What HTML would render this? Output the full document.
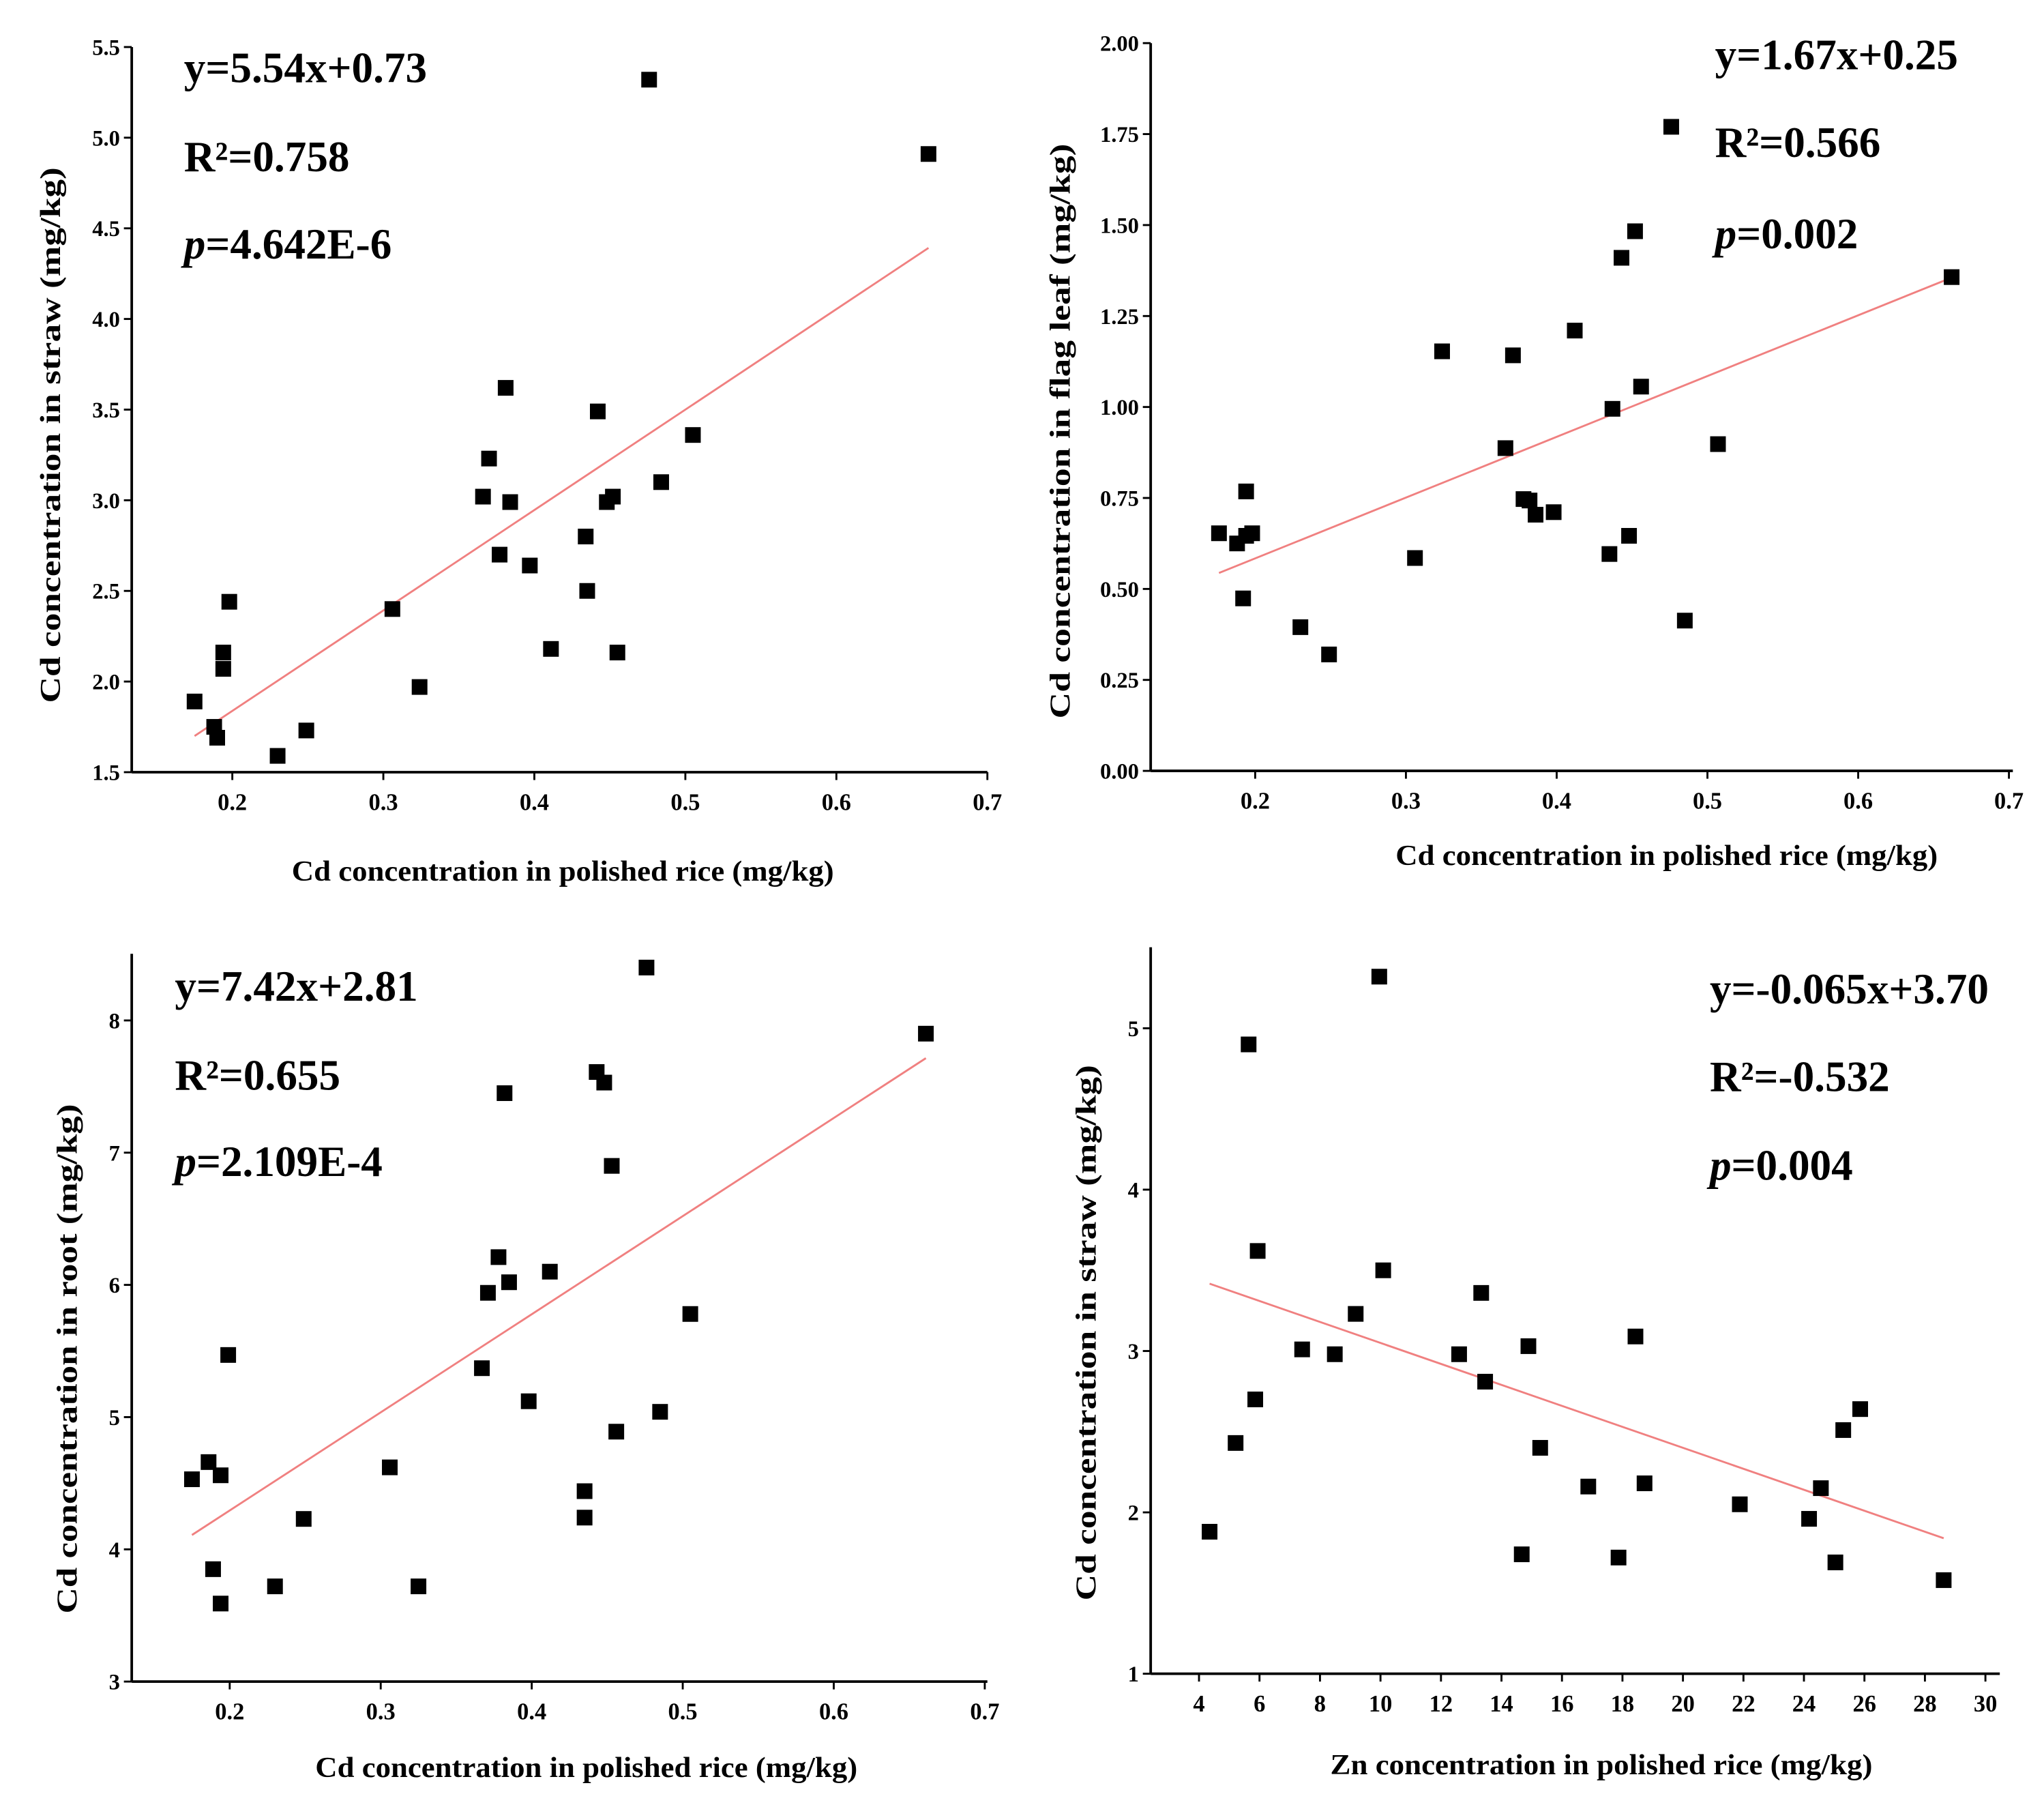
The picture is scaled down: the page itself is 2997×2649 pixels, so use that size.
<!DOCTYPE html>
<html><head><meta charset="utf-8"><style>html,body{margin:0;padding:0;background:#fff}svg{display:block}</style></head>
<body>
<svg id="chart" width="2997" height="2649" viewBox="0 0 1563 1383" xmlns="http://www.w3.org/2000/svg" font-family="Liberation Serif, serif">
<rect width="1563" height="1383" fill="#fff"/>
</svg>
<script>
// Panel A: Cd straw vs Cd polished rice
const aX = [0.175,0.188,0.190,0.194,0.194,0.198,0.230,0.249,0.306,0.324,0.366,0.370,0.377,0.381,0.384,0.397,0.411,0.434,0.435,0.442,0.448,0.452,0.455,0.476,0.484,0.505,0.661];
const aY = [1.89,1.75,1.69,2.16,2.07,2.44,1.59,1.73,2.40,1.97,3.02,3.23,2.70,3.62,2.99,2.64,2.18,2.80,2.50,3.49,2.99,3.02,2.16,5.32,3.10,3.36,4.91];
// Panel B: flag leaf
const bX = [0.176,0.188,0.192,0.194,0.194,0.198,0.230,0.249,0.306,0.324,0.366,0.371,0.378,0.382,0.386,0.398,0.412,0.435,0.437,0.443,0.448,0.452,0.456,0.476,0.485,0.507,0.662];
const bY = [0.653,0.625,0.474,0.768,0.646,0.653,0.395,0.320,0.585,1.153,0.887,1.142,0.747,0.743,0.704,0.711,1.210,0.596,0.995,1.410,0.646,1.483,1.056,1.770,0.413,0.898,1.357];
// Panel C: root
const cX = [0.175,0.186,0.189,0.194,0.194,0.199,0.230,0.249,0.306,0.325,0.367,0.371,0.378,0.382,0.385,0.398,0.412,0.435,0.435,0.443,0.448,0.453,0.456,0.476,0.485,0.505,0.661];
const cY = [4.53,4.66,3.85,4.56,3.59,5.47,3.72,4.23,4.62,3.72,5.37,5.94,6.21,7.45,6.02,5.12,6.10,4.24,4.44,7.61,7.53,6.90,4.89,8.40,5.04,5.78,7.90];
// Panel D: Zn vs Cd straw
const dX = [4.35,5.21,5.64,5.86,5.94,7.41,8.49,9.18,9.96,10.09,12.6,13.33,13.46,14.67,14.89,15.28,16.87,17.87,18.43,18.73,21.88,24.17,24.56,25.04,25.3,25.86,28.62];
const dY = [1.88,2.43,4.90,2.70,3.62,3.01,2.98,3.23,5.32,3.50,2.98,3.36,2.81,1.74,3.03,2.40,2.16,1.72,3.09,2.18,2.05,1.96,2.15,1.69,2.51,2.64,1.58];
const aTicksX = ["0.2","0.3","0.4","0.5","0.6","0.7"];
const aTicksY = ["1.5","2.0","2.5","3.0","3.5","4.0","4.5","5.0","5.5"];
const bTicksY = ["0.00","0.25","0.50","0.75","1.00","1.25","1.50","1.75","2.00"];
const cTicksY = ["3","4","5","6","7","8"];
const dTicksX = ["4","6","8","10","12","14","16","18","20","22","24","26","28","30"];
const dTicksY = ["1","2","3","4","5"];
const fitA = [5.54,0.73], fitB = [1.67,0.25], fitC = [7.42,2.81], fitD = [-0.065,3.70];

const svg = document.getElementById('chart');
const NS = 'http://www.w3.org/2000/svg';
function mk(tag, attrs, parent){const e=document.createElementNS(NS,tag);for(const k in attrs)e.setAttribute(k,attrs[k]);(parent||svg).appendChild(e);return e;}

function panel(p){
  const g = mk('g',{});
  
  
  const sx = v => p.px0 + (v - p.vx0) * (p.px1 - p.px0) / (p.vx1 - p.vx0);
  const sy = v => p.py0 + (v - p.vy0) * (p.py1 - p.py0) / (p.vy1 - p.vy0);
  const axY = mk('line',{x1:p.left,y1:p.axisTop,x2:p.left,y2:p.bottom,stroke:'#000','stroke-width':2},g);
  
  
  const axX = mk('line',{x1:p.left,y1:p.bottom,x2:p.right,y2:p.bottom,stroke:'#000','stroke-width':2},g);
  
  
  p.ticksX.forEach(t=>{
    const x=sx(parseFloat(t));
    mk('line',{x1:x,y1:p.bottom,x2:x,y2:p.bottom+6,stroke:'#000','stroke-width':1.5},g);
    const tx=mk('text',{x:x,y:p.bottom+29,'text-anchor':'middle','font-size':18,'font-weight':'bold'},g);
    tx.textContent=t;
    
    
  });
  p.ticksY.forEach(t=>{
    const y=sy(parseFloat(t));
    mk('line',{x1:p.left-6,y1:y,x2:p.left,y2:y,stroke:'#000','stroke-width':1.5},g);
    const tx=mk('text',{x:p.left-9,y:y+6,'text-anchor':'end','font-size':17,'font-weight':'bold'},g);
    tx.textContent=t;
    
    
  });
  const x0=Math.min(...p.xs), x1=Math.max(...p.xs);
  const fl=mk('line',{x1:sx(x0),y1:sy(p.fit[0]*x0+p.fit[1]),x2:sx(x1),y2:sy(p.fit[0]*x1+p.fit[1]),stroke:'#f08080','stroke-width':1.5},g);
  
  
  p.xs.forEach((v,i)=>{
    const r=mk('rect',{x:sx(v)-6,y:sy(p.ys[i])-6,width:12,height:12,fill:'#000'},g);
    
    
  });
  const xt=mk('text',{x:p.xtx,y:p.xty,'text-anchor':'middle','font-size':22,'font-weight':'bold',textLength:p.xlen,lengthAdjust:'spacingAndGlyphs'},g);
  xt.textContent=p.xtitle;
  
  
  const yt=mk('text',{x:0,y:0,'text-anchor':'middle','font-size':22,'font-weight':'bold',textLength:p.ylen,lengthAdjust:'spacingAndGlyphs',transform:`translate(${p.ytx},${p.yty}) rotate(-90)`},g);
  yt.textContent=p.ytitle;
  
  
  const lines=[p.eq,'R²='+p.r2,null];
  p.annY.forEach((yy,i)=>{
    const t=mk('text',{x:p.annX,y:yy,'font-size':33,'font-weight':'bold'},g);
    if(i<2){t.textContent=lines[i];}
    else{const it=mk('tspan',{'font-style':'italic'},t);it.textContent='p';const rest=mk('tspan',{},t);rest.textContent='='+p.pv;}
    
    
  });
}

panel({name:'panel-straw-vs-rice',left:100,right:755,axisTop:36,bottom:591,px0:177,px1:755,vx0:0.2,vx1:0.7,py0:591,py1:36,vy0:1.5,vy1:5.5,
  ticksX:aTicksX,ticksY:aTicksY,xs:aX,ys:aY,fit:fitA,xtitle:'Cd concentration in polished rice (mg/kg)',xtx:430,xty:674,xlen:415,
  ytitle:'Cd concentration in straw (mg/kg)',ytx:45,yty:333,ylen:410,eq:'y=5.54x+0.73',r2:'0.758',pv:'4.642E-6',annX:140,annY:[63,131,198]});
panel({name:'panel-flagleaf-vs-rice',left:880,right:1540,axisTop:33,bottom:590,px0:960,px1:1537,vx0:0.2,vx1:0.7,py0:590,py1:33,vy0:0,vy1:2,
  ticksX:aTicksX,ticksY:bTicksY,xs:bX,ys:bY,fit:fitB,xtitle:'Cd concentration in polished rice (mg/kg)',xtx:1275,xty:662,xlen:415,
  ytitle:'Cd concentration in flag leaf (mg/kg)',ytx:818,yty:330,ylen:440,eq:'y=1.67x+0.25',r2:'0.566',pv:'0.002',annX:1312,annY:[53,120,190]});
panel({name:'panel-root-vs-rice',left:100,right:755,axisTop:730,bottom:1287,px0:175,px1:753,vx0:0.2,vx1:0.7,py0:1287,py1:781,vy0:3,vy1:8,
  ticksX:aTicksX,ticksY:cTicksY,xs:cX,ys:cY,fit:fitC,xtitle:'Cd concentration in polished rice (mg/kg)',xtx:448,xty:1360,xlen:415,
  ytitle:'Cd concentration in root (mg/kg)',ytx:58,yty:1040,ylen:390,eq:'y=7.42x+2.81',r2:'0.655',pv:'2.109E-4',annX:133,annY:[766,834,900]});
panel({name:'panel-straw-vs-zn',left:880,right:1530,axisTop:725,bottom:1281,px0:917,px1:1519,vx0:4,vx1:30,py0:1281,py1:787,vy0:1,vy1:5,
  ticksX:dTicksX,ticksY:dTicksY,xs:dX,ys:dY,fit:fitD,xtitle:'Zn concentration in polished rice (mg/kg)',xtx:1225,xty:1358,xlen:415,
  ytitle:'Cd concentration in straw (mg/kg)',ytx:838,yty:1020,ylen:410,eq:'y=-0.065x+3.70',r2:'-0.532',pv:'0.004',annX:1308,annY:[768,835,903]});
</script>
</body></html>
